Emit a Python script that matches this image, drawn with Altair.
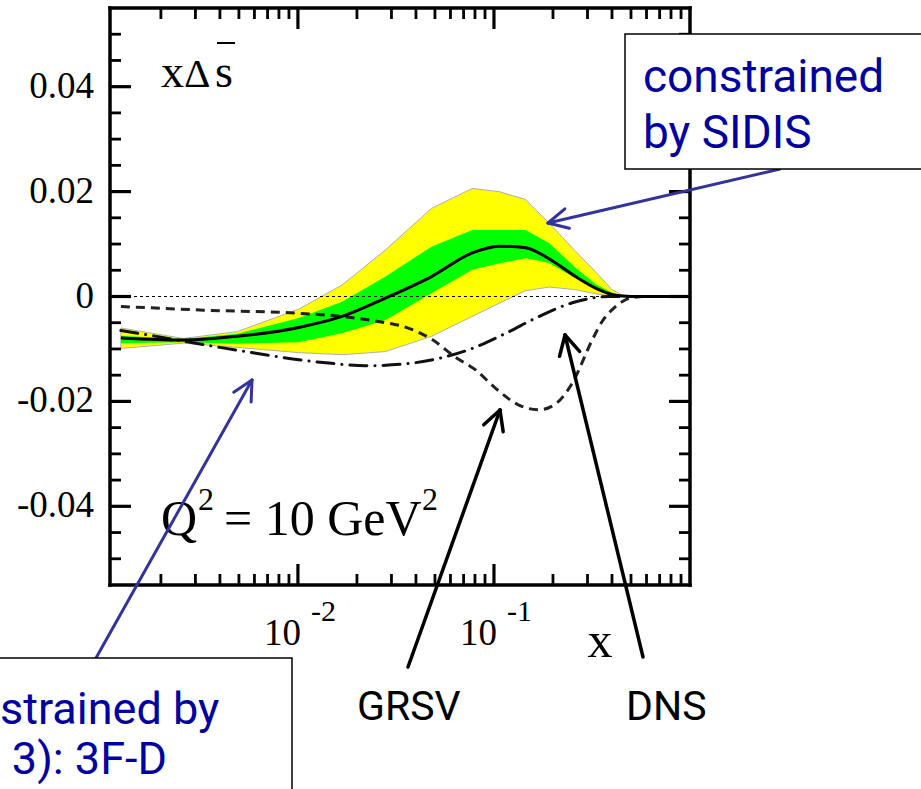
import math
import altair as alt
import pandas as pd

# ---------------- data ----------------
band_x = [0.00125, 0.0026, 0.0049, 0.0101, 0.0168, 0.028, 0.048, 0.0775, 0.106,
          0.145, 0.191, 0.261, 0.33, 0.40, 0.45, 0.55, 1.0]
yellow_top = [-0.0060, -0.0080, -0.0067, -0.0024, 0.0022, 0.0089, 0.0168, 0.0206, 0.0200,
              0.0185, 0.0140, 0.0086, 0.0047, 0.0013, 0.0003, 0.0, 0.0]
yellow_bot = [-0.0099, -0.0089, -0.0097, -0.0107, -0.0111, -0.0105, -0.0076, -0.0038, -0.0013,
              0.0011, 0.0018, 0.0013, 0.0005, 0.0001, 0.0, 0.0, 0.0]
green_top = [-0.0075, -0.0081, -0.0071, -0.0041, -0.0010, 0.0038, 0.0095, 0.0127, 0.0127,
             0.0127, 0.0102, 0.0055, 0.0024, 0.0007, 0.0001, 0.0, 0.0]
green_bot = [-0.0089, -0.0087, -0.0090, -0.0087, -0.0070, -0.0045, 0.0006, 0.0051, 0.0063,
             0.0073, 0.0064, 0.0035, 0.0016, 0.0005, 0.0001, 0.0, 0.0]
central = [-0.0079, -0.0083, -0.0076, -0.0059, -0.0038, -0.0003, 0.0038, 0.0083, 0.0096,
           0.0093, 0.0072, 0.0038, 0.0016, 0.0004, 0.0001, 0.0, 0.0]

grsv_x = [0.00125, 0.0033, 0.0101, 0.0168, 0.028, 0.0328, 0.0484, 0.0638, 0.0806, 0.102,
          0.134, 0.170, 0.206, 0.251, 0.317, 0.36, 0.401, 0.45, 0.508, 0.6, 1.0]
grsv_y = [-0.0019, -0.0026, -0.0032, -0.0038, -0.0050, -0.0055, -0.0082, -0.0116, -0.0140, -0.0175,
          -0.0207, -0.0216, -0.0205, -0.0165, -0.0083, -0.0045, -0.0025, -0.0010, -0.0002, 0.0, 0.0]

dns_x = [0.00125, 0.0017, 0.0026, 0.0040, 0.0061, 0.0094, 0.0144, 0.0221, 0.034, 0.0524,
         0.0776, 0.115, 0.170, 0.251, 0.386, 1.0]
dns_y = [-0.0065, -0.0073, -0.0085, -0.0097, -0.0108, -0.0119, -0.0127, -0.0132, -0.0129, -0.0118,
         -0.0099, -0.0070, -0.0038, -0.0012, 0.0, 0.0]

y_major = [-0.04, -0.02, 0.0, 0.02, 0.04]
y_major_labels = ["-0.04", "-0.02", "0", "0.02", "0.04"]
y_minor = [-0.05, -0.045, -0.035, -0.03, -0.025, -0.015, -0.01, -0.005,
           0.005, 0.01, 0.015, 0.025, 0.03, 0.035, 0.045, 0.05]
x_major = [0.01, 0.1]
x_major_exp = ["-2", "-1"]
x_minor = [0.002, 0.003, 0.004, 0.005, 0.006, 0.007, 0.008, 0.009,
           0.02, 0.03, 0.04, 0.05, 0.06, 0.07, 0.08, 0.09,
           0.2, 0.3, 0.4, 0.5, 0.6, 0.7, 0.8, 0.9]

# ---------------- layout ----------------
W, H = 580, 577
PL, PT = 110, 8
SERIF = "Liberation Serif"
SANS = "Roboto"
BLUE_TXT = "#0000A0"
BLUE_ARR = "#333399"

xscale = alt.Scale(type="log", domain=[0.0011, 1.0], nice=False)
yscale = alt.Scale(domain=[-0.055, 0.055], nice=False, zero=False)

dummy = pd.DataFrame({"d": [0]})


def X(f):
    return alt.X(f, type="quantitative", scale=xscale, axis=None)


def Y(f):
    return alt.Y(f, type="quantitative", scale=yscale, axis=None)


def seg(x1, y1, x2, y2, color="black", width=2.0, cap="round"):
    # page coordinates -> plot coordinates
    return alt.Chart(dummy).mark_rule(color=color, strokeWidth=width, strokeCap=cap).encode(
        x=alt.value(x1 - PL), y=alt.value(y1 - PT), x2=alt.value(x2 - PL), y2=alt.value(y2 - PT))


def txt(s, x, y, size, font, color="black", align="left"):
    return alt.Chart(pd.DataFrame({"t": [s]})).mark_text(
        font=font, fontSize=size, color=color, align=align, baseline="alphabetic"
    ).encode(text="t:N", x=alt.value(x - PL), y=alt.value(y - PT))


def arrow(tail, tip, color, width, ang=27, length=22):
    tx, ty = tail
    px_, py_ = tip
    a = math.atan2(ty - py_, tx - px_)
    out = [seg(tx, ty, px_, py_, color, width)]
    for s in (-1, 1):
        b = a + s * math.radians(ang)
        out.append(seg(px_, py_, px_ + length * math.cos(b), py_ + length * math.sin(b), color, width))
    return out


band_df = pd.DataFrame({"x": band_x, "yt": yellow_top, "yb": yellow_bot,
                        "gt": green_top, "gb": green_bot, "c": central})
grsv_df = pd.DataFrame({"x": grsv_x, "y": grsv_y})
dns_df = pd.DataFrame({"x": dns_x, "y": dns_y})

layers = []

layers.append(alt.Chart(band_df).mark_area(color="#FFFF00", stroke="#B0B0B0", strokeWidth=1,
                                           interpolate="linear").encode(
    x=X("x"), y=Y("yt"), y2="yb"))
layers.append(alt.Chart(band_df).mark_area(color="#00FF00", interpolate="linear").encode(
    x=X("x"), y=Y("gt"), y2="gb"))
layers.append(alt.Chart(pd.DataFrame({"y": [0.0]})).mark_rule(
    color="black", strokeWidth=1, strokeDash=[3, 3]).encode(
    y=Y("y"), x=alt.value(0), x2=alt.value(W)))
layers.append(alt.Chart(grsv_df).mark_line(color="#222222", strokeWidth=3, strokeDash=[9, 6],
                                           interpolate="monotone").encode(x=X("x"), y=Y("y")))
layers.append(alt.Chart(dns_df).mark_line(color="#111111", strokeWidth=3, strokeDash=[17, 8, 0.1, 8],
                                          strokeCap="round", interpolate="monotone").encode(
    x=X("x"), y=Y("y")))
layers.append(alt.Chart(band_df).mark_line(color="black", strokeWidth=3,
                                           interpolate="monotone").encode(x=X("x"), y=Y("c")))

# frame
FW = 3.5
layers += [
    seg(PL, PT, PL + W, PT, width=FW, cap="square"),
    seg(PL, PT + H, PL + W, PT + H, width=FW, cap="square"),
    seg(PL, PT, PL, PT + H, width=FW, cap="square"),
    seg(PL + W, PT, PL + W, PT + H, width=FW, cap="square"),
]

# ticks (inward)
MAJ, MIN = 21, 11
ymaj_df = pd.DataFrame({"v": y_major, "lab": y_major_labels})
ymin_df = pd.DataFrame({"v": y_minor})
xmaj_df = pd.DataFrame({"v": x_major, "e": x_major_exp, "b": ["10", "10"]})
xmin_df = pd.DataFrame({"v": x_minor})

for df, L, w in ((ymaj_df, MAJ, 3.2), (ymin_df, MIN, 2.8)):
    layers.append(alt.Chart(df).mark_rule(color="black", strokeWidth=w).encode(
        y=Y("v"), x=alt.value(0), x2=alt.value(L)))
    layers.append(alt.Chart(df).mark_rule(color="black", strokeWidth=w).encode(
        y=Y("v"), x=alt.value(W), x2=alt.value(W - L)))
for df, L, w in ((xmaj_df, MAJ, 3.2), (xmin_df, MIN, 2.8)):
    layers.append(alt.Chart(df).mark_rule(color="black", strokeWidth=w).encode(
        x=X("v"), y=alt.value(H), y2=alt.value(H - L)))
    layers.append(alt.Chart(df).mark_rule(color="black", strokeWidth=w).encode(
        x=X("v"), y=alt.value(0), y2=alt.value(L)))

# tick labels
layers.append(alt.Chart(ymaj_df).mark_text(font=SERIF, fontSize=37, align="right",
                                           baseline="middle", color="black").encode(
    y=Y("v"), x=alt.value(-16), text="lab:N"))
layers.append(alt.Chart(xmaj_df).mark_text(font=SERIF, fontSize=37, align="right",
                                           baseline="alphabetic", dx=3, color="black").encode(
    x=X("v"), y=alt.value(645 - PT), text="b:N"))
layers.append(alt.Chart(xmaj_df).mark_text(font=SERIF, fontSize=30, align="left",
                                           baseline="alphabetic", dx=13, color="black").encode(
    x=X("v"), y=alt.value(621 - PT), text="e:N"))
layers.append(txt("x", 600, 657, 50, SERIF, align="center"))

# in-plot labels
layers.append(txt("x", 161, 87, 46, SERIF))
layers.append(txt("Δ", 184, 87, 41, SERIF))
layers.append(txt("s", 215, 87, 46, SERIF))
layers.append(seg(217, 43, 235, 43, width=2, cap="butt"))
layers.append(txt("Q", 161, 535, 50, SERIF))
layers.append(txt("2", 198, 510, 32, SERIF))
layers.append(txt("= 10 GeV", 224, 535, 50, SERIF))
layers.append(txt("2", 422, 510, 32, SERIF))

# arrows
layers += arrow((780, 169), (548, 223), BLUE_ARR, 3)
layers += arrow((96, 658), (252, 380), BLUE_ARR, 3)
layers += arrow((408, 667), (500, 410), "black", 3.5, ang=28)
layers += arrow((643, 657), (565, 335), "black", 3.5, ang=28)

# annotation boxes
layers.append(alt.Chart(dummy).mark_rect(fill="white", stroke="black", strokeWidth=1.5).encode(
    x=alt.value(625 - PL), x2=alt.value(940 - PL), y=alt.value(34 - PT), y2=alt.value(169 - PT)))
layers.append(alt.Chart(dummy).mark_rect(fill="white", stroke="black", strokeWidth=1.5).encode(
    x=alt.value(-40 - PL), x2=alt.value(292 - PL), y=alt.value(658 - PT), y2=alt.value(820 - PT)))

layers.append(txt("constrained", 643, 92, 46, SANS, BLUE_TXT))
layers.append(txt("by SIDIS", 643, 148, 46, SANS, BLUE_TXT))
layers.append(txt("strained by", 0, 724, 45, SANS, BLUE_TXT))
layers.append(txt("3): 3F-D", 167, 774, 45, SANS, BLUE_TXT, align="right"))
layers.append(txt("GRSV", 357, 720, 41, SANS))
layers.append(txt("DNS", 626, 720, 41, SANS))

chart = alt.layer(*layers).properties(
    width=W, height=H,
    padding={"left": PL, "top": PT, "right": 921 - PL - W, "bottom": 789 - PT - H},
    autosize=alt.AutoSizeParams(type="none"),
).configure_view(stroke=None)

chart.save("out.html", embed_options={"renderer": "svg", "actions": False})
